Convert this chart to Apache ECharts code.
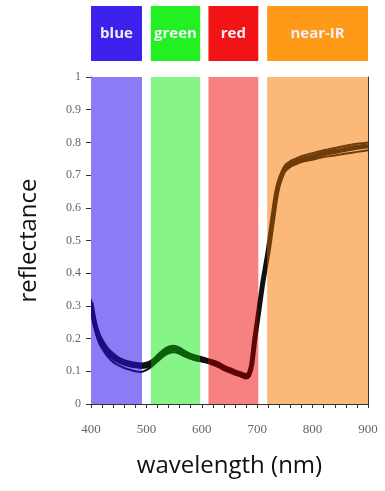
<!DOCTYPE html>
<html><head><meta charset="utf-8">
<script src="https://cdn.jsdelivr.net/npm/echarts@6/dist/echarts.min.js"></script>
<style>html,body{margin:0;padding:0;background:#fff}#c{width:385px;height:491px}</style>
</head><body><div id="c"></div>
<script>
// wavelengths (nm)
const wavelengths = [400,405,410,415,420,430,440,450,460,470,480,490,500,510,520,530,540,550,560,570,580,590,600,610,620,630,640,650,660,670,680,685,690,695,700,705,710,715,720,725,730,735,740,750,760,770,780,800,820,840,860,880,900];
// reflectance, center of the bundle of spectra
const reflMid = [0.31,0.26,0.225,0.20,0.185,0.16,0.143,0.132,0.125,0.12,0.117,0.115,0.117,0.125,0.14,0.155,0.165,0.168,0.162,0.153,0.145,0.14,0.136,0.132,0.127,0.12,0.11,0.103,0.096,0.09,0.084,0.09,0.12,0.19,0.25,0.31,0.37,0.42,0.47,0.53,0.59,0.645,0.68,0.72,0.733,0.74,0.748,0.756,0.766,0.772,0.779,0.785,0.79];
// lower spectrum of the bundle
const reflLow = [0.30,0.245,0.21,0.185,0.17,0.145,0.128,0.118,0.11,0.105,0.10,0.098,0.104,0.115,0.13,0.145,0.155,0.158,0.153,0.145,0.138,0.133,0.13,0.126,0.12,0.113,0.104,0.097,0.09,0.084,0.078,0.083,0.11,0.18,0.24,0.30,0.36,0.41,0.46,0.52,0.58,0.635,0.67,0.71,0.725,0.733,0.74,0.747,0.755,0.76,0.766,0.771,0.776];
// upper spectrum of the bundle
const reflHigh = [0.32,0.275,0.24,0.215,0.198,0.172,0.155,0.142,0.134,0.129,0.126,0.124,0.126,0.134,0.15,0.165,0.175,0.178,0.172,0.162,0.153,0.148,0.143,0.138,0.133,0.127,0.117,0.11,0.103,0.097,0.092,0.098,0.13,0.2,0.26,0.32,0.38,0.43,0.48,0.54,0.60,0.655,0.69,0.73,0.743,0.75,0.758,0.767,0.776,0.783,0.79,0.796,0.80];

// spectral bands
const bandNames = ['blue','green','red','near-IR'];
const bandStart = [400,508,612,718];
const bandEnd   = [492,597,702,900];
const bandFill  = ['#8a7cf4','#86f486','#f78181','#fcb878'];
const boxFill   = ['#3c22ec','#22f022','#f21414','#ff9a18'];
const curveCol  = ['#1c0d80','#0b5e0b','#5e0606','#6e3c0a'];
const gapCol = '#111';

const yTicks = [0,0.1,0.2,0.3,0.4,0.5,0.6,0.7,0.8,0.9,1];
const xTicks = [400,500,600,700,800,900];

const pts = a => wavelengths.map((w,i)=>[w,a[i]]);

const pieces = [];
for (let i=0;i<bandNames.length;i++){
  pieces.push({gte:bandStart[i], lt:bandEnd[i], color:curveCol[i]});
  if (i<bandNames.length-1) pieces.push({gte:bandEnd[i], lt:bandStart[i+1], color:gapCol});
}
pieces[pieces.length-1].lte = 900; delete pieces[pieces.length-1].lt;

const chart = echarts.init(document.getElementById('c'), null, {renderer:'canvas'});
const serif = 'Liberation Serif';
const sans = 'Open Sans';
chart.setOption({
  animation:false,
  grid:[
    {left:91, right:17, top:77, bottom:87},
    {left:91, right:17, top:6, height:55}
  ],
  xAxis:[
    {type:'value', gridIndex:0, min:400, max:900, interval:100,
     axisLine:{show:true, onZero:false, lineStyle:{color:'#333', width:1}},
     axisTick:{show:true, inside:false, length:4, lineStyle:{color:'#333'}},
     minorTick:{show:true, splitNumber:5, length:4, lineStyle:{color:'#333'}},
     splitLine:{show:false},
     axisLabel:{color:'#666', fontFamily:serif, fontSize:13, margin:19,
       formatter:v=> xTicks.includes(v)? String(v):''},
     name:'wavelength (nm)', nameLocation:'middle', nameGap:50,
     nameTextStyle:{fontFamily:sans, fontSize:24, color:'#111'}},
    {type:'value', gridIndex:0, position:'top', min:400, max:900,
     axisLine:{show:true, lineStyle:{color:'#333'}}, axisTick:{show:false}, axisLabel:{show:false}, splitLine:{show:false}},
    {type:'value', gridIndex:1, min:400, max:900, show:false}
  ],
  yAxis:[
    {type:'value', gridIndex:0, min:0, max:1, interval:0.1,
     axisLine:{show:true, lineStyle:{color:'#333'}},
     axisTick:{show:true, length:5, lineStyle:{color:'#333'}},
     splitLine:{show:false},
     axisLabel:{color:'#666', fontFamily:serif, fontSize:12, margin:10,
       formatter:v=>String(Math.round(v*10)/10)},
     name:'reflectance', nameLocation:'middle', nameGap:50,
     nameTextStyle:{fontFamily:sans, fontSize:24, color:'#111'}},
    {type:'value', gridIndex:0, position:'right', min:0, max:1,
     axisLine:{show:true, lineStyle:{color:'#333'}}, axisTick:{show:false}, axisLabel:{show:false}, splitLine:{show:false}},
    {type:'value', gridIndex:1, min:0, max:1, show:false}
  ],
  visualMap:{type:'piecewise', show:false, dimension:0, seriesIndex:[1,2,3], pieces:pieces},
  series:[
    {type:'line', xAxisIndex:0, yAxisIndex:0, data:[], z:-1, silent:true,
     markArea:{silent:true, data: bandNames.map((n,i)=>[
       {xAxis:bandStart[i], itemStyle:{color:bandFill[i], opacity:1}},
       {xAxis:bandEnd[i]}])}},
    {type:'line', xAxisIndex:0, yAxisIndex:0, data:pts(reflLow), showSymbol:false, smooth:0.3, lineStyle:{width:2}},
    {type:'line', xAxisIndex:0, yAxisIndex:0, data:pts(reflHigh), showSymbol:false, smooth:0.3, lineStyle:{width:2}},
    {type:'line', xAxisIndex:0, yAxisIndex:0, data:pts(reflMid), showSymbol:false, smooth:0.3, lineStyle:{width:5}},
    {type:'line', xAxisIndex:2, yAxisIndex:2, data:[], silent:true,
     markArea:{silent:true, data: bandNames.map((n,i)=>[
       {xAxis:bandStart[i], name:n, itemStyle:{color:boxFill[i], opacity:1},
        label:{show:true, position:'inside', color:'#f4eefa', fontFamily:sans, fontWeight:'bold', fontSize:15}},
       {xAxis:bandEnd[i]}])}}
  ]
});
</script></body></html>
